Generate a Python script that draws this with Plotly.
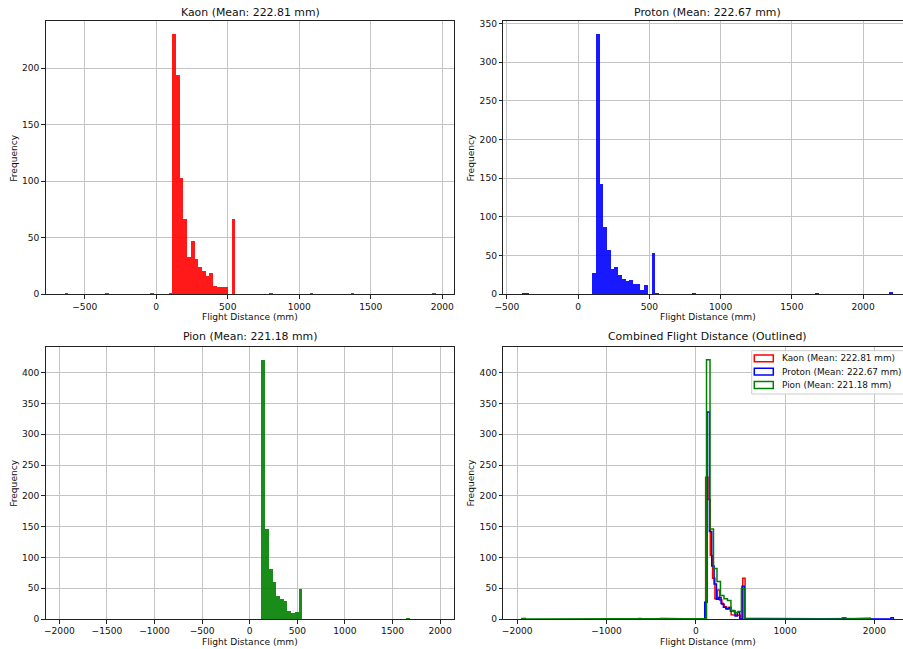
import numpy as np
import plotly.graph_objects as go

# ---------------- data ----------------
N_BINS = 100
species = ["Kaon", "Proton", "Pion"]
means = [222.81, 222.67, 221.18]

kaon_range = [-643.0, 1954.0]
kaon_bins = [0, 11, 23, 28, 29, 30, 31, 32, 33, 34, 35, 36, 37, 38, 39, 40, 41, 42, 43, 45, 55, 66, 77, 99]
kaon_counts = [1, 1, 1, 1, 230, 194, 103, 66, 33, 47, 31, 24, 20, 16, 19, 7, 6, 6, 6, 66, 1, 1, 1, 1]

proton_range = [-395.0, 2212.0]
proton_bins = [0, 1, 19, 20, 21, 22, 23, 24, 25, 26, 27, 28, 29, 30, 31, 32, 33, 35, 36, 46, 79, 99]
proton_counts = [1, 1, 27, 336, 142, 86, 57, 32, 35, 25, 19, 17, 18, 13, 13, 5, 11, 53, 1, 1, 1, 2]

pion_range = [-1948.0, 1954.0]
pion_bins = [0, 38, 45, 46, 52, 53, 54, 55, 56, 57, 58, 59, 60, 61, 62, 63, 78, 92, 99]
pion_counts = [1, 1, 1, 1, 1, 421, 146, 82, 61, 38, 33, 30, 14, 10, 12, 49, 1, 2, 1]

kaon_xticks = [-500, 0, 500, 1000, 1500, 2000]
proton_xticks = [-500, 0, 500, 1000, 1500, 2000]
pion_xticks = [-2000, -1500, -1000, -500, 0, 500, 1000, 1500, 2000]
comb_xticks = [-2000, -1000, 0, 1000, 2000]

fill_colors = ["rgba(255,0,0,0.9)", "rgba(0,0,255,0.9)", "rgba(0,128,0,0.9)"]
line_colors = ["red", "blue", "green"]

# ---------------- helpers ----------------
W, H = 903, 649
FONT = "DejaVu Sans"
TICK = 9.1
TITLE = 10.9


def PX(x):
    return x / W


def PY(y):
    return 1 - y / H


def hist(rng, bins, counts):
    edges = np.linspace(rng[0], rng[1], N_BINS + 1)
    c = np.zeros(N_BINS)
    c[np.array(bins)] = counts
    return edges, c


data = [hist(kaon_range, kaon_bins, kaon_counts),
        hist(proton_range, proton_bins, proton_counts),
        hist(pion_range, pion_bins, pion_counts)]

AX_W = 408.6  # full axes width in px
LEFT_X0, RIGHT_X0 = 45.7, 503.3
vis_frac = (W - RIGHT_X0) / AX_W  # right column is cropped by the figure edge


def xrange(lo, hi, frac=1.0):
    m = 0.05 * (hi - lo)
    a, b = lo - m, hi + m
    return [a, a + (b - a) * frac]


fig = go.Figure()

# single histograms
for i, (edges, c) in enumerate(data):
    centers = (edges[:-1] + edges[1:]) / 2
    fig.add_trace(go.Bar(
        x=centers, y=c, width=edges[1] - edges[0],
        marker=dict(color=fill_colors[i], line=dict(width=0)),
        xaxis=["x", "x2", "x3"][i], yaxis=["y", "y2", "y3"][i],
        showlegend=False, name=species[i]))

# combined outlines
for i, (edges, c) in enumerate(data):
    xs = np.repeat(edges, 2)
    ys = np.concatenate([[0], np.repeat(c, 2), [0]])
    fig.add_trace(go.Scatter(
        x=xs, y=ys, mode="lines",
        line=dict(color=line_colors[i], width=1.5),
        xaxis="x4", yaxis="y4", showlegend=False,
        name=f"{species[i]} (Mean: {means[i]:.2f} mm)"))

L = [PX(LEFT_X0), PX(LEFT_X0 + AX_W)]
R = [PX(RIGHT_X0), 1.0]
T = [PY(294.3), PY(21.3)]
B = [PY(619.0), PY(346.7)]

common_x = dict(showgrid=True, gridcolor="#c4c4c4", gridwidth=1, zeroline=False, automargin=False,
                showline=True, linecolor="#222222", linewidth=1, mirror=True,
                ticks="outside", ticklen=3.5, tickcolor="#222222", tickwidth=1,
                tickfont=dict(family=FONT, size=TICK, color="#111111"))


def yaxis(mirror):
    d = dict(common_x)
    d["mirror"] = mirror
    return d


comb_lo = min(kaon_range[0], proton_range[0], pion_range[0])
comb_hi = max(kaon_range[1], proton_range[1], pion_range[1])
comb_max = max(max(kaon_counts), max(proton_counts), max(pion_counts))

fig.update_layout(
    template="none",
    width=W, height=H, margin=dict(l=0, r=0, t=0, b=0, pad=0),
    paper_bgcolor="white", plot_bgcolor="white", bargap=0,
    font=dict(family=FONT, size=TICK, color="#111111"),
    xaxis=dict(common_x, domain=L, anchor="y", range=xrange(*kaon_range), tickvals=kaon_xticks),
    yaxis=dict(yaxis(True), domain=T, anchor="x", range=[0, 1.05 * max(kaon_counts)], dtick=50),
    xaxis2=dict(common_x, domain=R, anchor="y2", range=xrange(*proton_range, vis_frac), tickvals=proton_xticks),
    yaxis2=dict(yaxis(False), domain=T, anchor="x2", range=[0, 1.05 * max(proton_counts)], dtick=50),
    xaxis3=dict(common_x, domain=L, anchor="y3", range=xrange(*pion_range), tickvals=pion_xticks),
    yaxis3=dict(yaxis(True), domain=B, anchor="x3", range=[0, 1.05 * max(pion_counts)], dtick=50),
    xaxis4=dict(common_x, domain=R, anchor="y4", range=xrange(comb_lo, comb_hi, vis_frac), tickvals=comb_xticks),
    yaxis4=dict(yaxis(False), domain=B, anchor="x4", range=[0, 1.05 * comb_max], dtick=50),
)

# titles and axis labels
titles = [f"{species[0]} (Mean: {means[0]:.2f} mm)", f"{species[1]} (Mean: {means[1]:.2f} mm)",
          f"{species[2]} (Mean: {means[2]:.2f} mm)", "Combined Flight Distance (Outlined)"]
cx = [LEFT_X0 + AX_W / 2, RIGHT_X0 + AX_W / 2]
title_y = [12.3, 336.7]
xlab_y = [317.0, 642.0]
ylab_x = [14.0, 470.7]
axis_mid_y = [(21.3 + 294.3) / 2, (346.7 + 619.0) / 2]
ann = []
for k in range(4):
    col, row = k % 2, k // 2
    ann.append(dict(text=titles[k], x=PX(cx[col]), y=PY(title_y[row]), xref="paper", yref="paper",
                    xanchor="center", yanchor="middle", showarrow=False,
                    font=dict(family=FONT, size=TITLE, color="#111111")))
    ann.append(dict(text="Flight Distance (mm)", x=PX(cx[col]), y=PY(xlab_y[row]), xref="paper", yref="paper",
                    xanchor="center", yanchor="middle", showarrow=False,
                    font=dict(family=FONT, size=TICK, color="#111111")))
    ann.append(dict(text="Frequency", x=PX(ylab_x[col]), y=PY(axis_mid_y[row]), xref="paper", yref="paper",
                    xanchor="center", yanchor="middle", showarrow=False, textangle=-90,
                    font=dict(family=FONT, size=TICK, color="#111111")))

# legend (matplotlib-style, outlined patches)
shapes = [dict(type="rect", xref="paper", yref="paper", x0=PX(751.7), x1=PX(918), y0=PY(394), y1=PY(350.7),
               line=dict(color="#cccccc", width=1), fillcolor="rgba(255,255,255,0.85)", layer="above")]
for i, yc in enumerate([358.3, 371.7, 385.0]):
    shapes.append(dict(type="rect", xref="paper", yref="paper", x0=PX(754.3), x1=PX(773.3),
                       y0=PY(yc + 3.4), y1=PY(yc - 3.4), line=dict(color=line_colors[i], width=1.5),
                       fillcolor="rgba(0,0,0,0)", layer="above"))
    ann.append(dict(text=f"{species[i]} (Mean: {means[i]:.2f} mm)", x=PX(779.5), y=PY(yc),
                    xref="paper", yref="paper", xanchor="left", yanchor="middle", showarrow=False,
                    font=dict(family=FONT, size=8.9, color="#111111")))

fig.update_layout(annotations=ann, shapes=shapes)
fig.write_html("out.html")
